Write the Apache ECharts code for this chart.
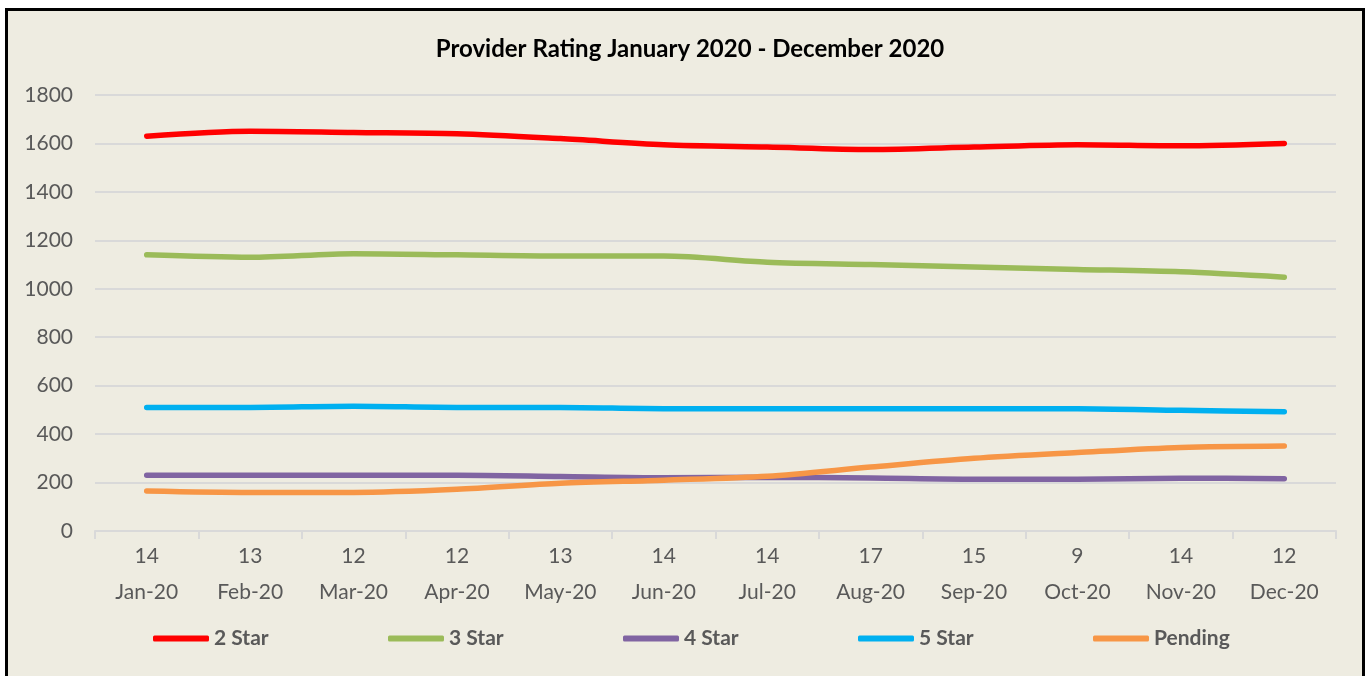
<!DOCTYPE html>
<html>
<head>
<meta charset="utf-8">
<script src="https://cdn.jsdelivr.net/npm/echarts@6/dist/echarts.min.js"></script>
<style>
  html, body { margin: 0; padding: 0; background: #fff; }
  #frame {
    position: absolute; left: 5px; top: 8px; width: 1354px; height: 700px;
    border: 3px solid #000; background: #EEECE1;
  }
  #chart { position: absolute; left: 0; top: 0; width: 1365px; height: 676px; }
</style>
</head>
<body>
<div id="frame"></div>
<div id="chart"></div>
<script>
const months = ["Jan-20", "Feb-20", "Mar-20", "Apr-20", "May-20", "Jun-20",
  "Jul-20", "Aug-20", "Sep-20", "Oct-20", "Nov-20", "Dec-20"];
const counts = ["14", "13", "12", "12", "13", "14", "14", "17", "15", "9", "14", "12"];

const star2 = [1630, 1650, 1645, 1640, 1620, 1595, 1585, 1575, 1585, 1595, 1590, 1600];
const star3 = [1140, 1130, 1145, 1140, 1135, 1135, 1110, 1100, 1090, 1080, 1070, 1048];
const star4 = [230, 230, 230, 230, 225, 220, 222, 219, 214, 214, 218, 216];
const star5 = [510, 510, 515, 510, 510, 505, 505, 505, 505, 505, 498, 492];
const pending = [165, 159, 159, 172, 197, 210, 226, 264, 300, 324, 345, 351];

const seriesNames = ["2 Star", "3 Star", "4 Star", "5 Star", "Pending"];
const seriesData = [star2, star3, star4, star5, pending];
const colors = ["#FF0000", "#9BBB59", "#8064A2", "#00B0F0", "#F79646"];

const font = "Lato, 'Open Sans', sans-serif";
const chart = echarts.init(document.getElementById("chart"));

const categories = months.map((m, i) => counts[i] + "\n" + m);

// one legend per item so they sit at fixed steps like the original
const legends = seriesNames.map((name, j) => ({
  left: 153 + 235 * j,
  top: 628,
  padding: 0,
  icon: "roundRect",
  itemWidth: 56,
  itemHeight: 6,
  data: [name],
  textStyle: { fontFamily: font, fontWeight: "bold", fontSize: 21, color: "#595959" },
}));

const options = {
  backgroundColor: "transparent",
  animation: false,
  title: {
    text: "Provider Rating January 2020 - December 2020",
    left: 685,
    top: 32,
    textAlign: "center",
    textStyle: { fontFamily: font, fontWeight: "bold", fontSize: 24, color: "#000" },
  },
  legend: legends,
  grid: { left: 95, right: 29, top: 95, bottom: 145 },
  xAxis: {
    type: "category",
    data: categories,
    boundaryGap: true,
    axisLine: { lineStyle: { color: "#D9D9D9", width: 2 } },
    axisTick: { show: true, length: 8, lineStyle: { color: "#D9D9D9", width: 2 } },
    axisLabel: {
      fontFamily: font, fontSize: 21, color: "#595959",
      lineHeight: 36, margin: 7, interval: 0,
    },
  },
  yAxis: {
    type: "value",
    min: 0,
    max: 1800,
    interval: 200,
    axisLine: { show: false },
    axisTick: { show: false },
    splitLine: { lineStyle: { color: "#D9D9D9", width: 2 } },
    axisLabel: {
      fontFamily: font, fontSize: 21, color: "#595959", margin: 22,
      formatter: (v) => String(v),
    },
  },
  series: [],
};

for (let j = 0; j < seriesNames.length; j++) {
  options.series.push({
    name: seriesNames[j],
    type: "line",
    data: seriesData[j],
    smooth: 0.3,
    symbol: "none",
    color: colors[j],
    lineStyle: { width: 5.5, color: colors[j], cap: "round" },
  });
}

chart.setOption(options);
</script>
</body>
</html>
